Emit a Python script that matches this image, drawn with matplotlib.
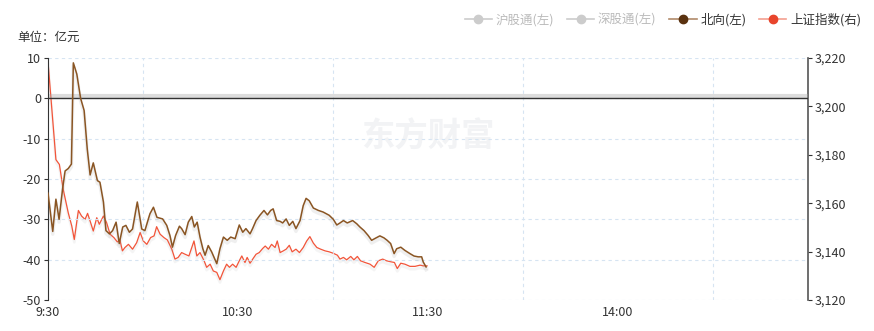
import matplotlib.pyplot as plt
import matplotlib.patheffects as pe
from matplotlib.lines import Line2D
from matplotlib.ticker import FuncFormatter

plt.rcParams['font.family'] = ['Noto Sans CJK SC', 'DejaVu Sans']
plt.rcParams['axes.unicode_minus'] = False

# minutes since 9:30 and net northbound inflow (亿元)
north_t = [0, 1.5, 2.5, 3.5, 4.6, 5.4, 6.4, 7.4, 8.0, 9.1, 10.3, 11.4, 12.4, 13.3, 14.3,
           15.6, 16.4, 17.5, 18.3, 19.4, 20.4, 21.5, 22.5, 23.6, 24.6, 25.7, 26.7, 28.2,
           29.6, 30.6, 31.7, 32.2, 33.3, 34.4, 36.2, 37.5, 38.5, 39.3, 40.3, 41.5, 42.2,
           43.3, 44.3, 45.4, 46.2, 47.1, 48.0, 48.9, 49.6, 50.6, 51.7, 53.3, 54.3, 55.4,
           56.6, 57.7, 59.1, 60.4, 61.5, 62.5, 63.8, 64.6, 65.7, 66.9, 68.2, 69.3, 70.3,
           71.1, 72.2, 73.3, 74.1, 75.2, 76.2, 77.3, 78.3, 79.6, 80.6, 81.5, 82.5, 83.8,
           85.4, 86.9, 88.8, 90.1, 91.2, 92.2, 93.3, 94.5, 96.2, 97.5, 98.5, 99.8, 101.1,
           102.2, 103.6, 104.8, 106.1, 107.1, 108.2, 109.3, 110.1, 111.4, 112.7, 114.3,
           115.6, 116.9, 118.0, 118.5, 119.4]
north_v = [-23.5, -33, -25, -30, -22.5, -18, -17.4, -16.3, 8.8, 6, 0, -3, -12.6, -19, -16,
           -20.4, -20.8, -25.7, -32.8, -33.6, -32.8, -30.7, -36, -31.9, -31.5, -33.2, -32.4,
           -25.7, -32.4, -32.8, -29.9, -28.6, -27, -29.5, -29.9, -31.5, -34, -36.9, -34,
           -31.7, -32.3, -33.8, -30.7, -29.3, -31.9, -30.7, -34.4, -37.3, -38.9, -36.5,
           -38.1, -41, -37.3, -34.4, -35.2, -34.4, -34.8, -31.4, -33.2, -32.3, -33.6, -32.3,
           -30.3, -29, -27.8, -28.9, -27.8, -27.4, -30.3, -30.5, -30.9, -29.9, -31.5, -30.5,
           -32.3, -30.3, -26.6, -24.8, -25.4, -27.2, -27.8, -28.2, -29, -30, -31.4, -30.9,
           -30.3, -30.9, -30.3, -31.1, -31.9, -32.8, -34, -35.2, -34.6, -34.1, -34.6, -35.2,
           -36, -38.5, -37.3, -36.9, -37.7, -38.5, -39.1, -39.3, -39.3, -40.6, -41.8]

# minutes since 9:30 and 上证指数
sh_t = [0, 2.5, 3.6, 4.8, 6.4, 7.5, 8.3, 9.6, 10.6, 11.7, 12.5, 13.3, 14.3, 15.4, 16.2,
        17.5, 18.5, 19.6, 20.8, 21.9, 22.7, 23.5, 24.3, 25.4, 26.7, 28.0, 29.1, 30.1,
        31.2, 32.4, 33.5, 34.3, 35.4, 36.6, 37.7, 39.1, 40.1, 41.1, 42.2, 43.3, 44.5,
        46.1, 47.0, 48.0, 49.3, 50.1, 51.2, 52.2, 53.3, 54.3, 55.4, 56.4, 57.3, 58.3,
        59.4, 60.4, 61.2, 62.2, 62.9, 63.8, 64.8, 65.7, 66.7, 67.8, 68.6, 69.6, 70.6,
        71.7, 72.4, 73.3, 74.3, 75.2, 76.2, 77.1, 78.3, 79.4, 80.6, 81.7, 82.7, 83.8,
        84.9, 86.1, 87.5, 88.8, 90.1, 91.4, 92.2, 93.3, 94.3, 95.6, 96.6, 97.7, 98.7,
        100.1, 101.7, 103.0, 104.3, 105.7, 106.9, 108.2, 109.4, 110.3, 111.4, 112.7,
        114.3, 115.9, 117.5, 118.5, 119.7]
sh_v = [3218.5, 3178, 3176, 3165.7, 3156, 3150.6, 3145, 3157, 3154.7, 3153.3, 3155.8, 3152.6,
        3148.5, 3154, 3151.3, 3154.7, 3152, 3147.2, 3145.8, 3144, 3144.8, 3140.3, 3141.7,
        3143, 3141, 3143.7, 3147.9, 3144.4, 3143, 3145.8, 3146.5, 3150.3, 3147.2, 3145.8,
        3144.8, 3141, 3136.9, 3137.6, 3139.6, 3138.9, 3138.2, 3144.4, 3138.2, 3139.6,
        3136.2, 3133.5, 3134.8, 3132, 3131.4, 3128.4, 3132, 3134.8, 3133.5, 3134.8, 3133.5,
        3136.2, 3138.2, 3135.5, 3137.6, 3135.2, 3137.2, 3138.9, 3139.6, 3141.3, 3142.3,
        3141, 3143, 3141.7, 3144.4, 3139.6, 3140.3, 3141, 3142.6, 3139.9, 3141, 3139.6,
        3141.7, 3144.4, 3146.2, 3143.5, 3141.7, 3141, 3140.3, 3139.9, 3139.3, 3138.5,
        3136.9, 3137.6, 3136.6, 3138, 3136.6, 3138, 3136.2, 3135.5, 3134.8, 3133.5, 3136.2,
        3136.9, 3136.2, 3135.8, 3135.5, 3133, 3135.2, 3134.8, 3133.9, 3133.9, 3134.4,
        3134.1, 3134.1]

time_ticks = [0, 60, 120, 180]
time_labels = ['9:30', '10:30', '11:30', '14:00']

fig = plt.figure(figsize=(8.74, 3.31), dpi=100)
ax = fig.add_axes([48 / 874, 1 - 300 / 331, 760 / 874, 242 / 331])
ax2 = ax.twinx()

ax.set_xlim(0, 240)
ax.set_ylim(-50, 10)
ax.set_yticks(range(-50, 11, 10))
ax.set_xticks(time_ticks)
ax.set_xticklabels(time_labels)
ax.set_xticks([30, 90, 150, 210], minor=True)
ax.tick_params(axis='x', which='both', length=0, labelsize=9, colors='#333333', pad=4)
ax.tick_params(axis='y', length=3, labelsize=9, colors='#333333', pad=2)
ax.grid(True, axis='y', color='#d6e4f2', linestyle=(0, (3, 3)), linewidth=0.8)
ax.grid(True, axis='x', which='minor', color='#d6e4f2', linestyle=(0, (3, 3)), linewidth=0.8)

for s in ['top', 'bottom', 'right']:
    ax.spines[s].set_visible(False)
ax.spines['left'].set_color('#333333')

# zero line with a light band above it
ax.axhline(0, color='#333333', linewidth=1.0, zorder=2,
           path_effects=[pe.SimpleLineShadow(offset=(0, 1.5), shadow_color='#aaaaaa', alpha=0.4,
                                             linewidth=3), pe.Normal()])

ax.plot(north_t, north_v, color='#8a5523', linewidth=1.1, zorder=4,
        path_effects=[pe.SimpleLineShadow(offset=(0, -2), shadow_color='#999999', alpha=0.15,
                                          linewidth=2.5), pe.Normal()])

ax2.set_ylim(3120, 3220)
ax2.set_yticks(range(3120, 3221, 20))
ax2.yaxis.set_major_formatter(FuncFormatter(lambda v, p: f'{int(v):,}'))
ax2.tick_params(axis='y', length=3, labelsize=9, colors='#333333', pad=2)
for s in ['top', 'bottom', 'left']:
    ax2.spines[s].set_visible(False)
ax2.spines['right'].set_color('#555555')
ax2.spines['right'].set_linewidth(1.2)
ax2.plot(sh_t, sh_v, color='#f2553a', linewidth=0.9, zorder=3,
         path_effects=[pe.SimpleLineShadow(offset=(0, -2), shadow_color='#999999', alpha=0.1,
                                           linewidth=2), pe.Normal()])
ax.set_zorder(ax2.get_zorder() + 1)
ax.patch.set_visible(False)

fig.text(0.02, 1 - 37 / 331, '单位：亿元', fontsize=9, color='#333333', va='center')
fig.text(0.49, 1 - 137 / 331, '东方财富', fontsize=24, fontweight='bold', color='#f2f3f5',
         ha='center', va='center', zorder=0)

handles = [
    Line2D([], [], color='#cccccc', marker='o', markersize=6, linewidth=1.2),
    Line2D([], [], color='#cccccc', marker='o', markersize=6, linewidth=1.2),
    Line2D([], [], color='#b08a6a', marker='o', markerfacecolor='#5a3210',
           markeredgecolor='#5a3210', markersize=6, linewidth=1.2),
    Line2D([], [], color='#f4a090', marker='o', markerfacecolor='#e8452c',
           markeredgecolor='#e8452c', markersize=6, linewidth=1.2),
]
labels = ['沪股通(左)', '深股通(左)', '北向(左)', '上证指数(右)']
leg = fig.legend(handles, labels, loc='center right', bbox_to_anchor=(0.998, 1 - 20 / 331),
                 ncol=4, frameon=False, fontsize=9, handlelength=2.2, handletextpad=0.3,
                 columnspacing=1.0)
for txt, col in zip(leg.get_texts(), ['#bbbbbb', '#bbbbbb', '#333333', '#333333']):
    txt.set_color(col)

fig.savefig('out.png', dpi=100)
